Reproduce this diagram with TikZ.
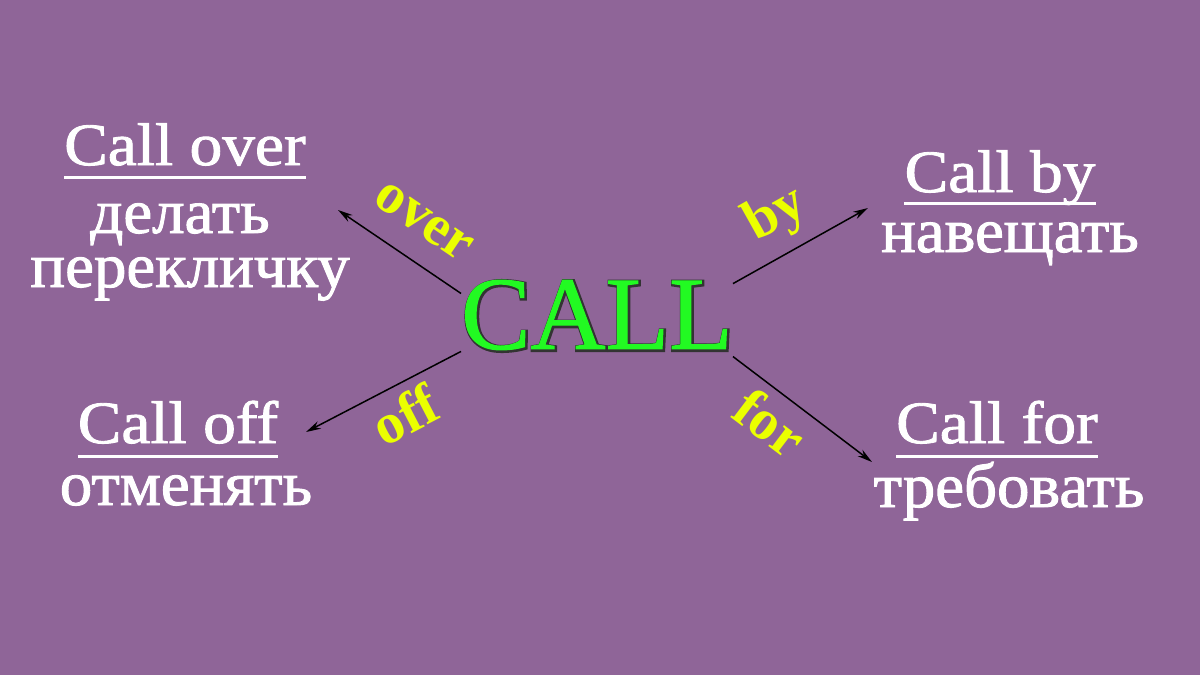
\documentclass[tikz,border=0pt]{standalone}
\usepackage{fontspec}
\setmainfont{Liberation Serif}
\newfontfamily\engfont[FakeStretch=1.09, FakeBold=1.5]{Liberation Serif}
\newfontfamily\rusfont[FakeStretch=1.03, FakeBold=1.5]{Liberation Serif}
\newfontfamily\callfont[FakeBold=1]{Liberation Serif}
\newfontfamily\rimfont[FakeBold=4]{Liberation Serif}
\usetikzlibrary{arrows.meta}
\definecolor{bgpurple}{RGB}{143,101,152}
\definecolor{callgreen}{RGB}{34,250,34}
\definecolor{prepyellow}{RGB}{235,255,0}

\begin{document}
\begin{tikzpicture}[x=1pt,y=-1pt]
    \tikzstyle{eng} = [text=white, inner sep=0pt, font=\engfont\fontsize{60}{60}\selectfont]
    \tikzstyle{rus} = [text=white, inner sep=0pt, font=\rusfont\fontsize{63}{63}\selectfont]
    \tikzstyle{uline} = [white, line width=3pt]
    \tikzstyle{prep} = [text=prepyellow, inner sep=0pt, font=\fontsize{57}{57}\selectfont\bfseries]
    \tikzstyle{big} = [inner sep=0pt, minimum width=270pt, minimum height=90pt]
    \tikzstyle{arr} = [black, line width=1.5pt, -{Stealth[length=15pt,width=8pt]}]
    \fill[bgpurple] (0,0) rectangle (1200,675);
    \useasboundingbox (0,0) rectangle (1200,675);
    % CALL with a dark rim
    \node[big, text=black!80, font=\rimfont\fontsize{104}{104}\selectfont] (callrim) at (598,316) {CALL};
    \node[big, text=callgreen, font=\callfont\fontsize{104}{104}\selectfont] (call) at (597,315) {CALL};
    % four phrases
    \node[eng, anchor=base] (overen) at (185,165) {Call over};
    \draw[uline] ([yshift=-12pt]overen.base west) -- ([yshift=-12pt]overen.base east);
    \node[rus, anchor=base] (overru) at (180,233) {делать};
    \node[rus, anchor=base] (overru2) at (190,287) {перекличку};
    \node[eng, anchor=base] (byen) at (1000,192) {Call by\ };
    \draw[uline] ([yshift=-11pt]byen.base west) -- ([yshift=-11pt]byen.base east);
    \node[rus, anchor=base] (byru) at (1010,252) {навещать};
    \node[eng, anchor=base] (offen) at (178,443) {Call off};
    \draw[uline] ([yshift=-13pt]offen.base west) -- ([yshift=-13pt]offen.base east);
    \node[rus, anchor=base] (offru) at (186,505) {отменять};
    \node[eng, anchor=base] (foren) at (997,443) {Call for\ };
    \draw[uline] ([yshift=-13pt]foren.base west) -- ([yshift=-13pt]foren.base east);
    \node[rus, anchor=base] (forru) at (1009,507) {требовать};
    % arrows with their particles
    \coordinate (overtip) at (338,210);
    \coordinate (bytip) at (868,208);
    \coordinate (offtip) at (306,432);
    \coordinate (fortip) at (872,462);
    \draw[arr] (call.171) -- (overtip) node[prep, pos=0.48, sloped, above=24pt] (overlbl) {over};
    \draw[arr] (call.13) -- (bytip) node[prep, pos=0.46, sloped, above=12pt] (bylbl) {by};
    \draw[arr] (call.195) -- (offtip) node[prep, pos=0.45, sloped, below=9pt] (offlbl) {off};
    \draw[arr] (call.343) -- (fortip) node[prep, pos=0.40, sloped, below=9pt] (forlbl) {for};
\end{tikzpicture}
\end{document}
